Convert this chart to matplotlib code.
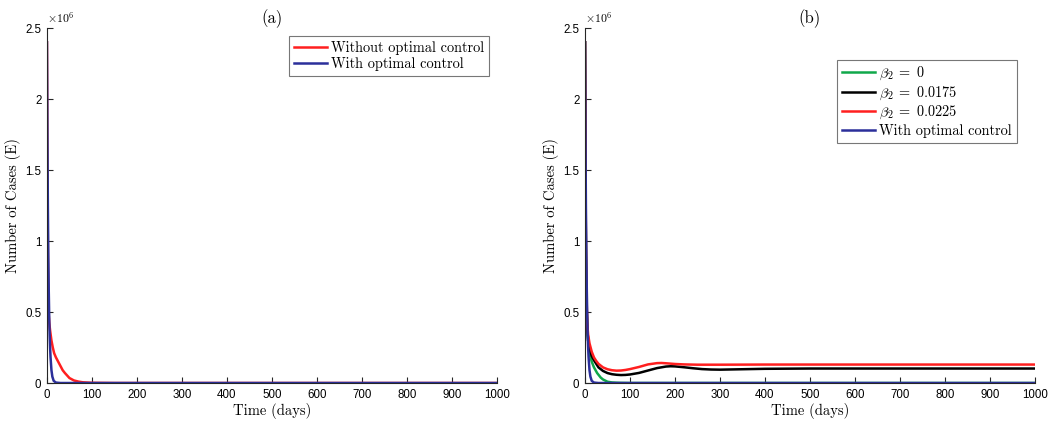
import matplotlib
matplotlib.use("Agg")
import matplotlib.pyplot as plt

# values in units of 1e6 cases
T_CTRL = [0, 1, 2, 3, 4, 5, 6, 7, 8, 10, 12, 15, 20, 30, 1000]
E_CTRL = [2.4, 1.75, 1.25, 0.9, 0.65, 0.47, 0.34, 0.25, 0.18, 0.09, 0.045, 0.015, 0.003, 0.0, 0.0]

T_NOCTRL = [0, 1, 2, 3, 4, 5, 7, 10, 13, 16, 20, 25, 30, 35, 40, 50, 60, 70, 80, 100, 150, 1000]
E_NOCTRL = [2.4, 1.55, 0.95, 0.6, 0.48, 0.43, 0.37, 0.3, 0.25, 0.21, 0.18, 0.15, 0.12, 0.09,
            0.07, 0.035, 0.018, 0.01, 0.005, 0.0015, 0.0, 0.0]

T_B0 = [0, 1, 2, 3, 5, 7, 10, 15, 20, 27, 35, 40, 50, 60, 70, 80, 100, 1000]
E_B0 = [2.4, 1.5, 0.9, 0.6, 0.38, 0.3, 0.21, 0.15, 0.11, 0.07, 0.038, 0.025, 0.009, 0.004,
        0.002, 0.001, 0.0, 0.0]

T_B175 = [0, 1, 2, 3, 5, 7, 10, 15, 20, 30, 40, 50, 60, 70, 80, 90, 100, 120, 140, 160, 180,
          190, 200, 220, 240, 260, 280, 300, 350, 400, 500, 1000]
E_B175 = [2.4, 1.55, 0.95, 0.62, 0.39, 0.3, 0.24, 0.19, 0.16, 0.11, 0.085, 0.07, 0.062, 0.058,
          0.056, 0.057, 0.06, 0.071, 0.088, 0.105, 0.116, 0.118, 0.117, 0.111, 0.104, 0.098,
          0.095, 0.094, 0.097, 0.1, 0.102, 0.102]

T_B225 = [0, 1, 2, 3, 5, 7, 10, 15, 20, 25, 30, 40, 50, 60, 70, 80, 90, 100, 120, 140, 160,
          170, 180, 200, 220, 250, 300, 400, 500, 1000]
E_B225 = [2.4, 1.6, 1.0, 0.66, 0.42, 0.34, 0.28, 0.22, 0.18, 0.155, 0.135, 0.11, 0.097, 0.09,
          0.087, 0.088, 0.092, 0.098, 0.113, 0.131, 0.14, 0.141, 0.139, 0.134, 0.131, 0.129,
          0.129, 0.13, 0.13, 0.13]

X_TICKS = [0, 100, 200, 300, 400, 500, 600, 700, 800, 900, 1000]
Y_TICKS = [0, 0.5, 1, 1.5, 2, 2.5]
Y_TICKLABELS = ["0", "0.5", "1", "1.5", "2", "2.5"]

RED = "#ff1f1f"
BLUE = "#2b2f9a"
GREEN = "#10a84a"
BLACK = "#000000"
AXC = "#262626"

plt.rcParams["mathtext.fontset"] = "cm"
SERIF = "cmr10"
SANS = "Liberation Sans"

fig = plt.figure(figsize=(10.55, 4.22), dpi=100)
ax_a = fig.add_axes([0.0445, 0.0924, 0.4265, 0.841])
ax_b = fig.add_axes([0.5545, 0.0924, 0.4265, 0.841])


def style(ax, title):
    ax.set_xlim(0, 1000)
    ax.set_ylim(0, 2.5)
    ax.set_xticks(X_TICKS)
    ax.set_xticklabels([str(v) for v in X_TICKS], family=SANS, fontsize=8.3)
    ax.set_yticks(Y_TICKS)
    ax.set_yticklabels(Y_TICKLABELS, family=SANS, fontsize=8.3)
    ax.tick_params(direction="in", length=4, width=0.8, colors=AXC, labelcolor="black", pad=4)
    for side in ("top", "right"):
        ax.spines[side].set_visible(False)
    for side in ("left", "bottom"):
        ax.spines[side].set_color(AXC)
        ax.spines[side].set_linewidth(0.8)
    ax.set_xlabel("Time (days)", family=SERIF, fontsize=10.5, labelpad=2)
    ax.set_ylabel("Number of Cases (E)", family=SERIF, fontsize=10.5, labelpad=3)
    ax.set_title(title, family=SERIF, fontsize=12, pad=3)
    ax.text(0.0, 1.008, r"$\times10^6$", transform=ax.transAxes, ha="left", va="bottom",
            fontsize=8.5, family=SANS)


def legend(ax, anchor):
    leg = ax.legend(loc="upper right", bbox_to_anchor=anchor,
                    prop={"family": SERIF, "size": 10.3},
                    frameon=True, fancybox=False, handlelength=2.3, handletextpad=0.3,
                    borderpad=0.35, labelspacing=0.15, borderaxespad=0)
    leg.get_frame().set_edgecolor("#555555")
    leg.get_frame().set_linewidth(0.8)


# (a)
ax_a.plot(T_NOCTRL, E_NOCTRL, color=RED, lw=1.8, label="Without optimal control")
ax_a.plot(T_CTRL, E_CTRL, color=BLUE, lw=1.8, label="With optimal control")
style(ax_a, "(a)")
legend(ax_a, (0.983, 0.978))

# (b)
ax_b.plot(T_B0, E_B0, color=GREEN, lw=1.8, label=r"$\beta_2 \;=\; 0$")
ax_b.plot(T_B175, E_B175, color=BLACK, lw=1.8, label=r"$\beta_2 \;=\; 0.0175$")
ax_b.plot(T_B225, E_B225, color=RED, lw=1.8, label=r"$\beta_2 \;=\; 0.0225$")
ax_b.plot(T_CTRL, E_CTRL, color=BLUE, lw=1.8, label="With optimal control")
style(ax_b, "(b)")
legend(ax_b, (0.96, 0.91))

fig.savefig("out.png", dpi=100, facecolor="white")
